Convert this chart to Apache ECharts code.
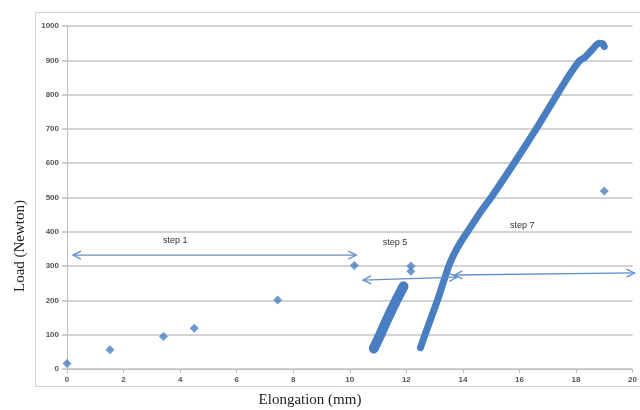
<!DOCTYPE html>
<html>
<head>
<meta charset="utf-8">
<script src="https://cdn.jsdelivr.net/npm/echarts@6/dist/echarts.min.js"></script>
<style>html,body{margin:0;padding:0;background:#fff;}#c{width:640px;height:410px;}</style>
</head>
<body>
<div id="c"></div>
<script>
// ---- data ----
var xTicks = [0, 2, 4, 6, 8, 10, 12, 14, 16, 18, 20];
var yTicks = [0, 100, 200, 300, 400, 500, 600, 700, 800, 900, 1000];
var xTitle = 'Elongation (mm)';
var yTitle = 'Load (Newton)';

// isolated readings
var pointsX = [0, 1.52, 3.41, 4.5, 7.45, 10.16, 12.16, 12.16, 19.0];
var pointsY = [16, 56, 95, 119, 201, 302, 300, 285, 519];

// step 5 loading curve
var step5X = [10.85, 11.1, 11.35, 11.62, 11.9];
var step5Y = [60, 104, 150, 196, 241];

// step 7 loading curve
var step7X = [12.5, 12.66, 13.1, 13.5, 13.75, 14.0, 14.2, 14.6, 15.04, 15.85, 16.63, 17.33, 17.8, 18.14, 18.3, 18.56, 18.8, 18.95, 19.0];
var step7Y = [62, 100, 200, 300, 345, 380, 405, 455, 505, 605, 705, 800, 862, 900, 908, 930, 950, 948, 940];

// annotation arrows: start / end points
var arrowStart = [[0.21, 332], [10.47, 259], [13.7, 274]];
var arrowEnd = [[10.23, 332], [13.8, 268], [20.07, 280]];

// annotation labels
var labelText = ['step 1', 'step 5', 'step 7'];
var labelX = [3.83, 11.6, 16.1];
var labelY = [376, 370, 418];

// ---- build ----
function zip(a, b) { return a.map(function (v, i) { return [v, b[i]]; }); }
var arrowData = arrowStart.map(function (s, i) { return [s[0], s[1], arrowEnd[i][0], arrowEnd[i][1]]; });
var labelData = labelText.map(function (t, i) { return [labelX[i], labelY[i], t]; });

var blue = '#4a7ec2';
var arrowColor = '#5f8fcf';

var chart = echarts.init(document.getElementById('c'));
chart.setOption({
  animation: false,
  backgroundColor: '#fff',
  grid: { left: 67, right: 2, top: 26, bottom: 41, containLabel: false },
  xAxis: {
    type: 'value', min: 0, max: 20, interval: 2,
    axisLine: { show: true, onZero: false, lineStyle: { color: '#bdbdbd', width: 1 } },
    axisTick: { show: true, length: 4, inside: false, lineStyle: { color: '#bdbdbd' } },
    axisLabel: { margin: 7, fontSize: 8, fontWeight: 'bold', color: '#555', fontFamily: 'Liberation Sans',
      formatter: function (v) { return xTicks.indexOf(v) >= 0 ? String(v) : ''; } },
    splitLine: { show: false }
  },
  yAxis: {
    type: 'value', min: 0, max: 1000, interval: 100,
    axisLine: { show: true, lineStyle: { color: '#bdbdbd', width: 1 } },
    axisTick: { show: true, length: 5, lineStyle: { color: '#cfcfcf', width: 2 } },
    axisLabel: { margin: 8, fontSize: 8, fontWeight: 'bold', color: '#555', fontFamily: 'Liberation Sans',
      formatter: function (v) { return yTicks.indexOf(v) >= 0 ? String(v) : ''; } },
    splitLine: { show: true, lineStyle: { color: '#d3d3d3', width: 2 } }
  },
  graphic: [
    { type: 'rect', silent: true, z: -1, shape: { x: 35.5, y: 12.5, width: 610, height: 374 },
      style: { fill: 'none', stroke: '#d2d2d2', lineWidth: 1 } },
    { type: 'text', x: 310, y: 400, style: { text: xTitle, font: '15px "Liberation Serif"', fill: '#222', align: 'center', verticalAlign: 'middle' } },
    { type: 'text', x: 20, y: 246, rotation: Math.PI / 2, style: { text: yTitle, font: '15px "Liberation Serif"', fill: '#222', align: 'center', verticalAlign: 'middle' } }
  ],
  series: [
    {
      name: 'step5', type: 'line', data: zip(step5X, step5Y), showSymbol: false, smooth: true,
      lineStyle: { color: blue, width: 10, cap: 'round', join: 'round' }, z: 3
    },
    {
      name: 'step7', type: 'line', data: zip(step7X, step7Y), showSymbol: false, smooth: 0.2,
      lineStyle: { color: blue, width: 7, cap: 'round', join: 'round' }, z: 3
    },
    {
      name: 'points', type: 'scatter', data: zip(pointsX, pointsY), symbol: 'diamond', symbolSize: 9,
      itemStyle: { color: blue }, z: 4
    },
    {
      name: 'arrows', type: 'custom', clip: false, data: arrowData,
      encode: { x: [0, 2], y: [1, 3] }, z: 5,
      renderItem: function (params, api) {
        var p1 = api.coord([api.value(0), api.value(1)]);
        var p2 = api.coord([api.value(2), api.value(3)]);
        var dx = p2[0] - p1[0], dy = p2[1] - p1[1];
        var len = Math.sqrt(dx * dx + dy * dy);
        var ux = dx / len, uy = dy / len, nx = -uy, ny = ux;
        var L = 8, W = 4;
        var style = { stroke: arrowColor, lineWidth: 1.3, fill: 'none' };
        return {
          type: 'group',
          children: [
            { type: 'line', shape: { x1: p1[0], y1: p1[1], x2: p2[0], y2: p2[1] }, style: style },
            { type: 'polyline', shape: { points: [
              [p1[0] + ux * L + nx * W, p1[1] + uy * L + ny * W], p1, [p1[0] + ux * L - nx * W, p1[1] + uy * L - ny * W]] }, style: style },
            { type: 'polyline', shape: { points: [
              [p2[0] - ux * L + nx * W, p2[1] - uy * L + ny * W], p2, [p2[0] - ux * L - nx * W, p2[1] - uy * L - ny * W]] }, style: style }
          ]
        };
      }
    },
    {
      name: 'labels', type: 'custom', clip: false, data: labelData,
      encode: { x: 0, y: 1 }, z: 6,
      renderItem: function (params, api) {
        var p = api.coord([api.value(0), api.value(1)]);
        return { type: 'text', x: p[0], y: p[1],
          style: { text: labelData[params.dataIndex][2], font: '9px "Liberation Sans"', fill: '#333', align: 'center', verticalAlign: 'middle' } };
      }
    }
  ]
});
</script>
</body>
</html>
